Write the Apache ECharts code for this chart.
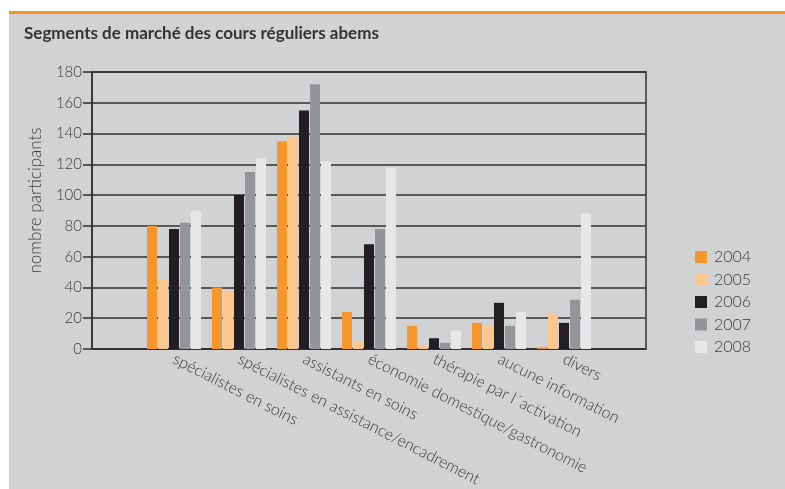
<!DOCTYPE html>
<html>
<head>
<meta charset="utf-8">
<script src="https://cdn.jsdelivr.net/npm/echarts@6/dist/echarts.min.js"></script>
<style>
html,body{margin:0;padding:0;background:#ffffff;}
#chart{width:785px;height:489px;}
</style>
</head>
<body>
<div id="chart"></div>
<script>
const categories = ['spécialistes en soins','spécialistes en assistance/encadrement','assistants en soins','économie domestique/gastronomie','thérapie par l´activation','aucune information','divers'];
const years = ['2004','2005','2006','2007','2008'];
const v2004 = [80, 40, 135, 24, 15, 17, 1];
const v2005 = [45, 38, 138, 5, 2, 15, 23];
const v2006 = [78, 100, 155, 68, 7, 30, 17];
const v2007 = [82, 115, 172, 78, 4, 15, 32];
const v2008 = [90, 124, 122, 118, 12, 24, 88];
const yTicks = [0, 180, 20];

const colors = ['#f7962a', '#fdc68d', '#231f20', '#939598', '#e6e7e8'];
const values = [v2004, v2005, v2006, v2007, v2008];
const FONT = 'Lato';
const TXT = '#3b3b3d';

const chart = echarts.init(document.getElementById('chart'), null, {renderer: 'canvas'});
chart.setOption({
  backgroundColor: '#ffffff',
  animation: false,
  textStyle: {fontFamily: FONT},
  graphic: [
    {type: 'rect', z: -10, shape: {x: 9, y: 14, width: 776, height: 475}, style: {fill: '#d1d2d4'}},
    {type: 'rect', z: -10, shape: {x: 9, y: 11, width: 776, height: 3}, style: {fill: '#f7941d'}}
  ],
  title: {
    text: 'Segments de marché des cours réguliers abems',
    left: 19, top: 20,
    textStyle: {fontFamily: FONT, fontWeight: 'bold', fontSize: 17, color: '#333335'}
  },
  legend: {
    orient: 'vertical',
    left: 690, top: 244,
    itemWidth: 12, itemHeight: 12, itemGap: 6.5,
    icon: 'rect',
    data: years,
    textStyle: {fontFamily: FONT, fontWeight: 300, fontSize: 16, color: TXT, padding: [0, 0, 0, 2]}
  },
  grid: [
    {left: 92, right: 139, top: 72, bottom: 140, show: true, borderColor: '#2f2f30', borderWidth: 1.5, backgroundColor: 'transparent'},
    {left: 141.5, right: 188.5, top: 72, bottom: 140}
  ],
  xAxis: [
    {type: 'category', gridIndex: 0, data: [''], axisLine: {show: true, lineStyle: {color: '#2f2f30', width: 1.5}}, axisTick: {show: false}, axisLabel: {show: false}},
    {type: 'category', gridIndex: 1, data: categories, axisLine: {show: false}, axisTick: {show: false},
      axisLabel: {rotate: -27, margin: 9, interval: 0, fontFamily: FONT, fontWeight: 300, fontSize: 16, color: TXT}}
  ],
  yAxis: [
    {type: 'value', gridIndex: 0, min: yTicks[0], max: yTicks[1], interval: yTicks[2],
      name: 'nombre participants', nameLocation: 'middle', nameGap: 48, nameRotate: 90,
      nameTextStyle: {fontFamily: FONT, fontWeight: 300, fontSize: 17, color: TXT, padding: [0, 0, 0, 20]},
      axisLine: {show: true, lineStyle: {color: '#2f2f30', width: 1.5}},
      axisTick: {show: true, inside: false, length: 9, lineStyle: {color: '#2f2f30', width: 1.5}},
      axisLabel: {margin: 10, fontFamily: FONT, fontWeight: 300, fontSize: 15, color: TXT},
      splitLine: {show: true, lineStyle: {color: '#2f2f30', width: 1.5}}},
    {type: 'value', gridIndex: 1, min: yTicks[0], max: yTicks[1], interval: yTicks[2], show: false, splitLine: {show: false}}
  ],
  series: years.map((y, i) => ({
    name: y, type: 'bar', xAxisIndex: 1, yAxisIndex: 1,
    data: values[i], barWidth: 10, barGap: '10%',
    itemStyle: {color: colors[i]}
  }))
});
</script>
</body>
</html>
